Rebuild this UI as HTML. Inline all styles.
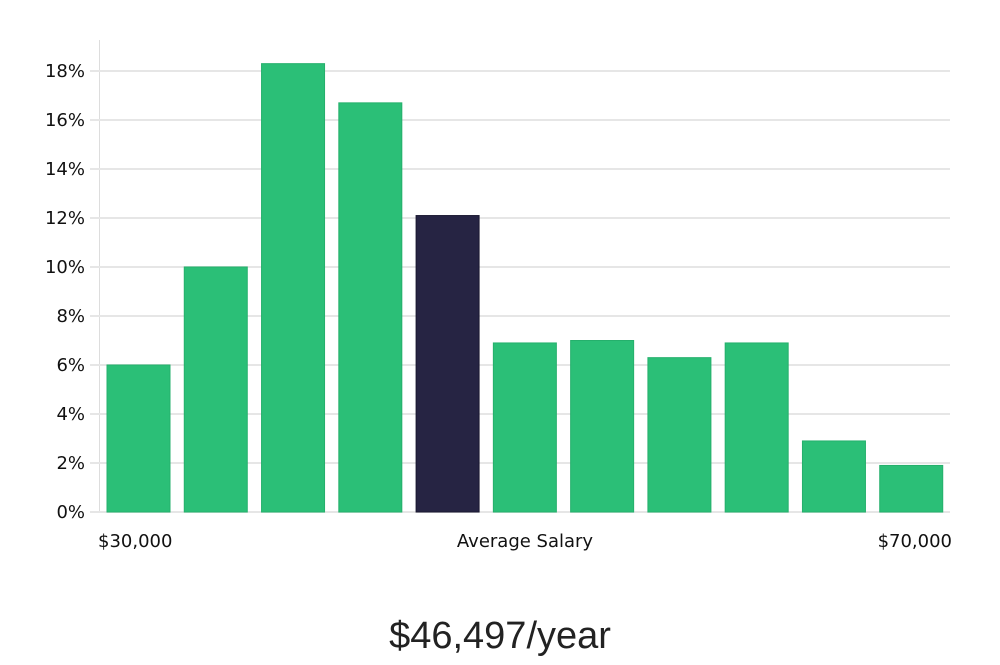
<!DOCTYPE html>
<html><head><meta charset="utf-8"><style>
html,body{margin:0;padding:0;background:#fff;}
svg text{font-family:"DejaVu Sans","Liberation Sans",sans-serif;}
</style></head><body>
<svg width="1000" height="660" viewBox="0 0 1000 660" xmlns="http://www.w3.org/2000/svg">
<g id="grid"></g><g id="bars"></g><g id="labels"></g>
<text x="98" y="547" font-size="18" fill="#111">$30,000</text>
<text x="525" y="547" font-size="18" fill="#111" text-anchor="middle">Average Salary</text>
<text x="952" y="547" font-size="18" fill="#111" text-anchor="end">$70,000</text>
<text x="500" y="648" font-size="38" fill="#222" text-anchor="middle" style="font-family:'Liberation Sans',sans-serif;font-weight:300">$46,497/year</text>
</svg>
<script>
const categories=["b1","b2","b3","b4","b5","b6","b7","b8","b9","b10","b11"];
const values=[6.0,10.0,18.3,16.7,12.1,6.9,7.0,6.3,6.9,2.9,1.9];
const highlightIndex=4;
const yTicks=[0,2,4,6,8,10,12,14,16,18];
const NS="http://www.w3.org/2000/svg";
const x0=100,x1=950,yZero=512,pxPer=24.5;
function y(v){return yZero-v*pxPer;}
const band=(x1-x0)/categories.length;
function bx(i){return x0+i*band+7;}
const grid=document.getElementById('grid');
const ax=document.createElementNS(NS,'line');


ax.setAttribute('x1',99.5);ax.setAttribute('x2',99.5);ax.setAttribute('y1',40);ax.setAttribute('y2',yZero);
ax.setAttribute('stroke','#ddd');ax.setAttribute('stroke-width','1');grid.appendChild(ax);
yTicks.forEach(t=>{
 const l=document.createElementNS(NS,'line');
 
 
 l.setAttribute('x1',90);l.setAttribute('x2',x1);l.setAttribute('y1',y(t));l.setAttribute('y2',y(t));
 l.setAttribute('stroke','#e6e6e6');l.setAttribute('stroke-width','2');grid.appendChild(l);
 const tx=document.createElementNS(NS,'text');
 
 
 tx.setAttribute('x',85);tx.setAttribute('y',y(t)+6);tx.setAttribute('text-anchor','end');
 tx.setAttribute('font-size','18');tx.setAttribute('fill','#111');tx.textContent=t+'%';
 document.getElementById('labels').appendChild(tx);
});
const bars=document.getElementById('bars');
values.forEach((v,i)=>{
 const r=document.createElementNS(NS,'rect');
 
 
 r.setAttribute('x',bx(i));r.setAttribute('width',63);
 r.setAttribute('y',y(v));r.setAttribute('height',yZero-y(v));
 const hi=i===highlightIndex;
 r.setAttribute('fill',hi?'#262443':'#2bbf77');
 r.setAttribute('stroke',hi?'#1a1830':'#25b06c');r.setAttribute('stroke-width','1');
 bars.appendChild(r);
});
</script>
</body></html>
